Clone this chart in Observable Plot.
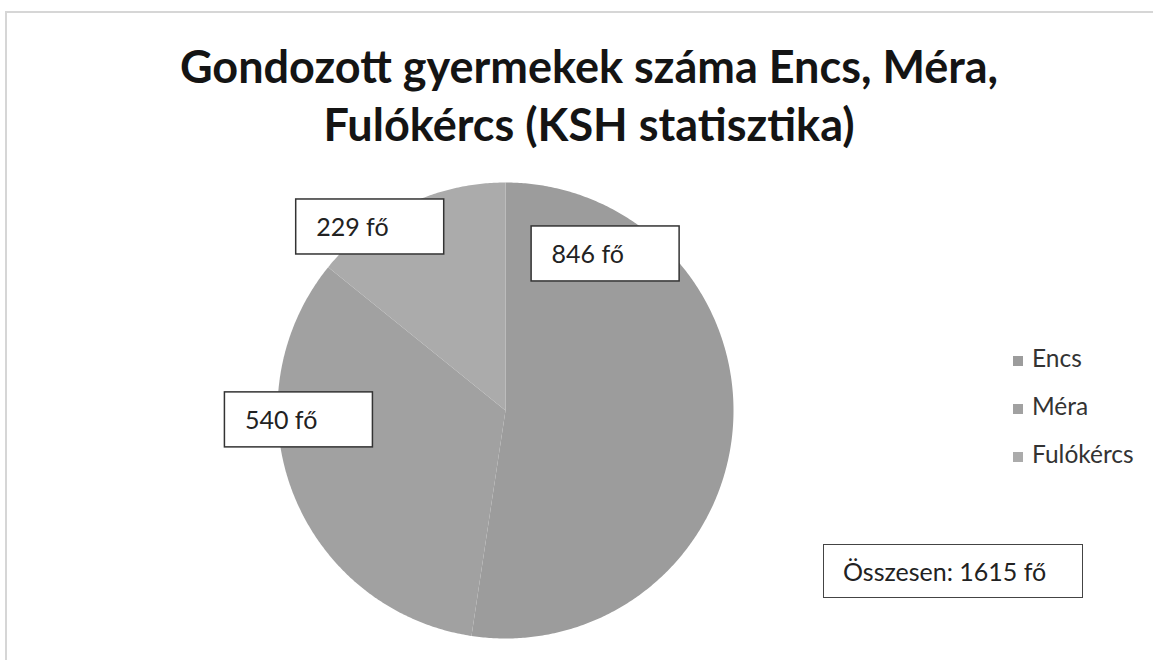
<!DOCTYPE html>
<html><head><meta charset="utf-8">
<script src="https://cdn.jsdelivr.net/npm/d3@7"></script>
<script src="https://cdn.jsdelivr.net/npm/@observablehq/plot@0.6"></script>
<style>
body{margin:0;background:#fff;font-family:Lato,"Noto Sans",sans-serif;color:#262626;}
#chart{position:relative;width:1153px;height:660px;overflow:hidden;background:#fff;}
#frameTop{position:absolute;left:5px;top:11px;width:1148px;height:2px;background:#d6d6d6;}
#frameLeft{position:absolute;left:5px;top:11px;width:2px;height:649px;background:#d6d6d6;}
#plot{position:absolute;left:0;top:0;}
.title{position:absolute;left:0;width:1178px;text-align:center;font-weight:700;font-size:45px;color:#141414;white-space:nowrap;line-height:1;}
#legend{position:absolute;left:1013px;top:343px;}
.lg{position:absolute;left:0;height:30px;white-space:nowrap;font-size:24.5px;color:#333;}
.lg .sw{position:absolute;left:0;top:13px;width:10px;height:10px;}
.lg .tx{position:absolute;left:19px;top:0;line-height:30px;}
#total{position:absolute;left:823px;top:544px;width:258px;height:52px;border:1.5px solid #444;background:#fff;box-sizing:content-box;}
#total span{position:absolute;left:19px;top:0;line-height:52px;font-size:25px;white-space:nowrap;color:#222;}
</style></head><body>
<div id="chart">
  <div id="frameTop"></div><div id="frameLeft"></div>
</div>
<script>
// ---- data ----
const titleLines = ["Gondozott gyermekek száma Encs, Méra,", "Fulókércs (KSH statisztika)"];
const categories = ["Encs", "Méra", "Fulókércs"];
const values = [846, 540, 229];
const unit = "fő";
const totalLabel = "Összesen";
const colors = ["#9c9c9c", "#a1a1a1", "#ababab"];

// ---- layout (label box placement, polar in pie units) ----
const labelPlacement = [
  {angle: 32.6, r: 0.815},
  {angle: 267.4, r: 0.907},
  {angle: 323.6, r: 1.0}
];
const R = 228;              // pie radius, px
const boxW = 148, boxH = 55, pad = 20;

const chart = document.getElementById("chart");

// pie geometry
const arcs = d3.pie().sort(null).value(d => d)(values);
const slicePts = [];
arcs.forEach((a, i) => {
  const name = categories[i];
  slicePts.push({name, x: 0, y: 0});
  const n = Math.max(2, Math.ceil((a.endAngle - a.startAngle) / (Math.PI / 360)));
  for (let k = 0; k <= n; k++) {
    const t = a.startAngle + (a.endAngle - a.startAngle) * k / n;
    slicePts.push({name, x: Math.sin(t), y: Math.cos(t)});
  }
});

const labels = categories.map((c, i) => {
  const p = labelPlacement[i];
  const th = p.angle * Math.PI / 180;
  const cx = p.r * Math.sin(th), cy = p.r * Math.cos(th);
  return {
    name: c, text: `${values[i]} ${unit}`,
    x1: cx - boxW / 2 / R, x2: cx + boxW / 2 / R,
    y1: cy - boxH / 2 / R, y2: cy + boxH / 2 / R,
    tx: cx - boxW / 2 / R + pad / R, ty: cy
  };
});

const plot = Plot.plot({
  width: 1153, height: 660,
  marginLeft: 277, marginRight: 420, marginTop: 182, marginBottom: 22,
  x: {domain: [-1, 1], axis: null},
  y: {domain: [-1, 1], axis: null},
  color: {domain: categories, range: colors},
  style: {background: "transparent", fontFamily: "Lato, sans-serif", overflow: "visible"},
  marks: [
    Plot.line(slicePts, {x: "x", y: "y", z: "name", fill: "name", stroke: "none", curve: "linear-closed"}),
    Plot.rect(labels, {x1: "x1", x2: "x2", y1: "y1", y2: "y2", fill: "white", stroke: "#333", strokeWidth: 1.5}),
    Plot.text(labels, {x: "tx", y: "ty", text: "text", textAnchor: "start", fontSize: 25, fill: "#222", dy: 1})
  ]
});
plot.id = "plot";
chart.appendChild(plot);

// title
const tops = [44, 102];
titleLines.forEach((t, i) => {
  const d = document.createElement("div");
  d.className = "title";
  d.style.top = tops[i] + "px";
  d.textContent = t;
  chart.appendChild(d);
});

// legend
const lg = document.createElement("div");
lg.id = "legend";
const rowTops = [0, 48, 96];
categories.forEach((c, i) => {
  const r = document.createElement("div");
  r.className = "lg";
  r.style.top = rowTops[i] + "px";
  r.innerHTML = `<div class="sw" style="background:${colors[i]}"></div><div class="tx"></div>`;
  r.querySelector(".tx").textContent = c;
  lg.appendChild(r);
});
chart.appendChild(lg);

// total box
const tb = document.createElement("div");
tb.id = "total";
const sp = document.createElement("span");
sp.textContent = `${totalLabel}: ${d3.sum(values)} ${unit}`;
tb.appendChild(sp);
chart.appendChild(tb);
</script>
</body></html>
